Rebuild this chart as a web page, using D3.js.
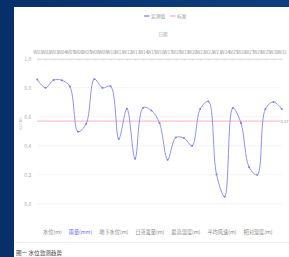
<!DOCTYPE html>
<html>
<head>
<meta charset="utf-8">
<script src="https://cdn.jsdelivr.net/npm/d3@7"></script>
<style>
  html, body { margin: 0; padding: 0; overflow: hidden; }
  body { width: 289px; height: 257px; }
  text { font-family: "Noto Sans CJK SC", "Noto Sans", sans-serif; }
</style>
</head>
<body>
<div id="chart"></div>
<script>
// data ///////////////////////////////////////////////////////////////
const weeks = d3.range(1, 32).map(i => 'W' + String(i).padStart(2, '0'));
const values = [0.857, 0.80, 0.853, 0.852, 0.808, 0.497, 0.552, 0.86, 0.80, 0.81,
                0.447, 0.656, 0.31, 0.663, 0.644, 0.557, 0.303, 0.457, 0.453, 0.40,
                0.654, 0.706, 0.202, 0.048, 0.661, 0.557, 0.252, 0.199, 0.654, 0.702, 0.654];
const standard = 0.57;
const yTicks = [0, 0.2, 0.4, 0.6, 0.8, 1.0];
const seriesNames = ['实测值', '标准'];
const groups = ['水位(m)', '雨量(mm)', '地下水位(m)', '日蒸发量(m)', '最高温度(m)', '平均风速(m)', '相对湿度(m)'];
const activeGroup = 1;

const width = 289, height = 257;

const svg = d3.select('#chart').append('svg')
  .attr('width', width)
  .attr('height', height)
  .attr('viewBox', [0, 0, width, height]);

const defs = svg.append('defs');
const grad = defs.append('linearGradient').attr('id', 'bg').attr('x1', 0).attr('y1', 0).attr('x2', 1).attr('y2', 0);
grad.append('stop').attr('offset', 0).attr('stop-color', '#07306b');
grad.append('stop').attr('offset', 1).attr('stop-color', '#0e3f80');

svg.append('rect').attr('width', width).attr('height', height).attr('fill', 'url(#bg)');
svg.append('rect').attr('x', 14).attr('y', 7).attr('width', width - 14).attr('height', height - 7).attr('fill', '#fff');

// scales ////////////////////////////////////////////////////////////
const x = d3.scalePoint().domain(weeks).range([37.3, 281.7]);
const y = d3.scaleLinear().domain([0, 1]).range([203.7, 58.8]);

// grid lines
svg.append('g')
  .selectAll('line')
  .data(yTicks)
  .join('line')
  .attr('x1', 37.3).attr('x2', 281.7)
  .attr('y1', d => y(d)).attr('y2', d => y(d))
  .attr('stroke', '#ececec').attr('stroke-width', 0.6);

// y axis labels
const yAxis = svg.append('g')
  .attr('transform', 'translate(37.3,0)')
  .call(d3.axisLeft(y).tickValues(yTicks).tickFormat(d3.format('.1f')).tickSize(0).tickPadding(6));
yAxis.select('.domain').remove();
yAxis.selectAll('text').attr('fill', '#aaa').attr('font-size', 5);

svg.append('text')
  .attr('transform', 'translate(22,124) rotate(-90)')
  .attr('text-anchor', 'middle')
  .attr('font-size', 3.8)
  .attr('fill', '#bbb')
  .text('水位(m)');

// top x axis
const xAxis = svg.append('g')
  .attr('transform', 'translate(0,58.8)')
  .call(d3.axisTop(x).tickSizeInner(-2).tickSizeOuter(0).tickPadding(5));
xAxis.select('.domain').attr('stroke', '#ccc').attr('stroke-width', 0.6);
xAxis.selectAll('.tick line').attr('stroke', '#ccc').attr('stroke-width', 0.5);
xAxis.selectAll('text').attr('fill', '#999').attr('font-size', 4.6);

svg.append('text')
  .attr('x', 163).attr('y', 36)
  .attr('text-anchor', 'middle')
  .attr('font-size', 4.5)
  .attr('fill', '#aaa')
  .text('日期');

// standard line
svg.append('line')
  .attr('x1', 37.3).attr('x2', 281.7)
  .attr('y1', y(standard)).attr('y2', y(standard))
  .attr('stroke', '#f5b3c0').attr('stroke-width', 1);
svg.append('text')
  .attr('x', 288.5).attr('y', y(standard) + 1.5)
  .attr('text-anchor', 'end')
  .attr('font-size', 4)
  .attr('fill', '#999')
  .attr('paint-order', 'stroke')
  .attr('stroke', '#fff').attr('stroke-width', 1)
  .text(standard.toFixed(2));

// series line
const line = d3.line()
  .x((d, i) => x(weeks[i]))
  .y(d => y(d))
  .curve(d3.curveCatmullRom.alpha(0.5));

svg.append('path')
  .datum(values)
  .attr('d', line)
  .attr('fill', 'none')
  .attr('stroke', '#8585f5')
  .attr('stroke-width', 0.9);

svg.append('g')
  .selectAll('circle')
  .data(values)
  .join('circle')
  .attr('cx', (d, i) => x(weeks[i]))
  .attr('cy', d => y(d))
  .attr('r', 1)
  .attr('fill', '#7b7bf2');

// legend
const legendColors = ['#8c8cf0', '#f5b3c0'];
const lg = svg.append('g').attr('transform', 'translate(144,16)');
let lx = 0;
seriesNames.forEach((name, i) => {
  lg.append('line').attr('x1', lx).attr('x2', lx + 5.5).attr('y1', 0).attr('y2', 0)
    .attr('stroke', legendColors[i]).attr('stroke-width', 1.4);
  const t = lg.append('text').attr('x', lx + 7).attr('y', 1.7)
    .attr('font-size', 4.8).attr('fill', '#999').text(name);
  lx += 7 + t.node().getComputedTextLength() + 4.5;
});

// group selector row
const gr = svg.append('g').attr('transform', 'translate(43,234)');
let gx = 0;
groups.forEach((name, i) => {
  const t = gr.append('text').attr('x', gx).attr('y', 0)
    .attr('font-size', 5.2)
    .attr('fill', i === activeGroup ? '#6c6cf0' : '#888')
    .text(name);
  gx += t.node().getComputedTextLength() + 7;
});

// footer
svg.append('line')
  .attr('x1', 14).attr('x2', width)
  .attr('y1', 242.5).attr('y2', 242.5)
  .attr('stroke', '#eee').attr('stroke-width', 0.8);
svg.append('text')
  .attr('x', 16).attr('y', 255)
  .attr('font-size', 5.6)
  .attr('fill', '#444')
  .text('图一 水位监测趋势');
</script>
</body>
</html>
